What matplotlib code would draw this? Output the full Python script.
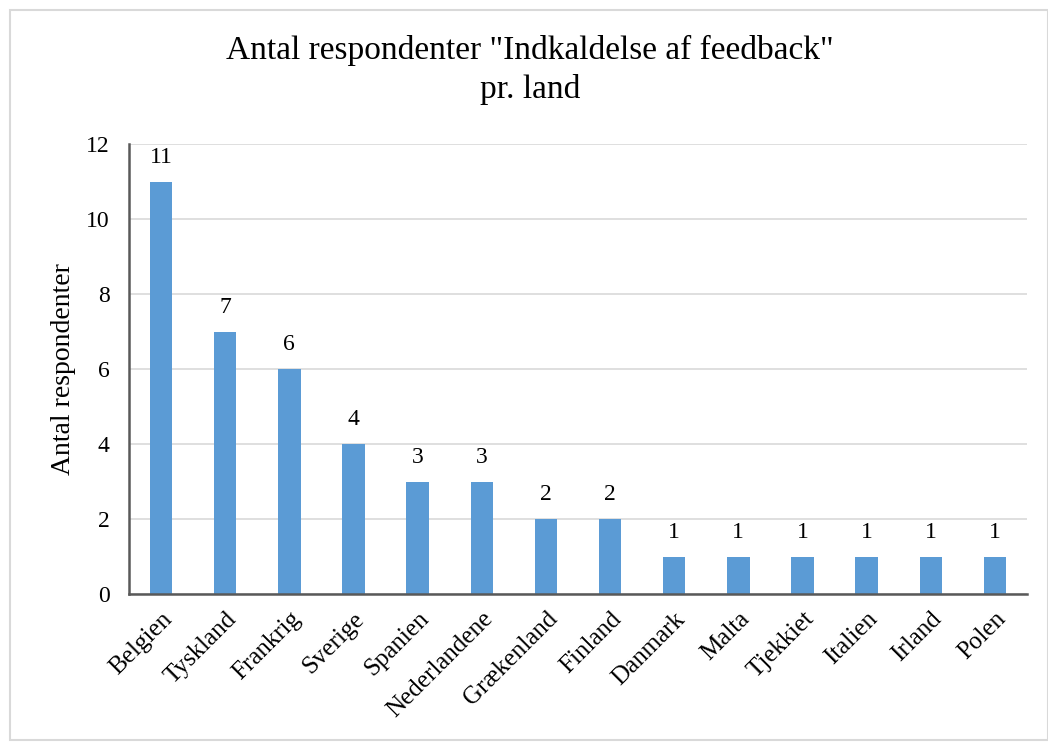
import matplotlib
matplotlib.use("Agg")
import matplotlib.pyplot as plt
from matplotlib.patches import Rectangle

countries = ["Belgien", "Tyskland", "Frankrig", "Sverige", "Spanien", "Nederlandene",
             "Grækenland", "Finland", "Danmark", "Malta", "Tjekkiet", "Italien", "Irland", "Polen"]
values = [11, 7, 6, 4, 3, 3, 2, 2, 1, 1, 1, 1, 1, 1]
yticks = [0, 2, 4, 6, 8, 10, 12]

plt.rcParams['font.family'] = ['Liberation Serif', 'DejaVu Serif']

fig = plt.figure(figsize=(10.48, 7.44), dpi=100)
fig.patches.append(Rectangle((10/1048, 0.005), 1 - 10/1048, 1 - 10/744 - 0.005,
                             transform=fig.transFigure, fill=False,
                             edgecolor="#D9D9D9", linewidth=1.5))

ax = fig.add_axes([129/1048, 1 - 594/744, (1027-129)/1048, (594-144)/744])
x = range(len(countries))
bars = ax.bar(x, values, width=0.35, color="#5B9BD5", zorder=3)
ax.set_xlim(-0.5, len(countries) - 0.5)
ax.set_ylim(0, 12)
ax.set_yticks(yticks)
ax.set_yticklabels([str(t) for t in yticks], fontsize=17)
ax.set_xticks(list(x))
ax.set_xticklabels(countries, rotation=45, ha="right", rotation_mode="anchor", fontsize=18)
ax.tick_params(axis="y", length=0, pad=14)
ax.tick_params(axis="x", length=0, pad=10)
ax.grid(axis="y", color="#D9D9D9", linewidth=1.2, zorder=0)
for s in ["top", "right"]:
    ax.spines[s].set_visible(False)
for s in ["left", "bottom"]:
    ax.spines[s].set_color("#595959")
    ax.spines[s].set_linewidth(1.8)
    ax.spines[s].set_zorder(4)

for b, v in zip(bars, values):
    ax.annotate(str(v), (b.get_x() + b.get_width()/2, v), xytext=(0, 10),
                textcoords="offset points", ha="center", va="bottom", fontsize=17)

ax.set_ylabel("Antal respondenter", fontsize=20, labelpad=7)
fig.text(530/1048, 1 - 70/744, 'Antal respondenter "Indkaldelse af feedback"\npr. land',
         ha="center", va="center", fontsize=24, linespacing=1.3)

fig.savefig("out.png", dpi=100)
